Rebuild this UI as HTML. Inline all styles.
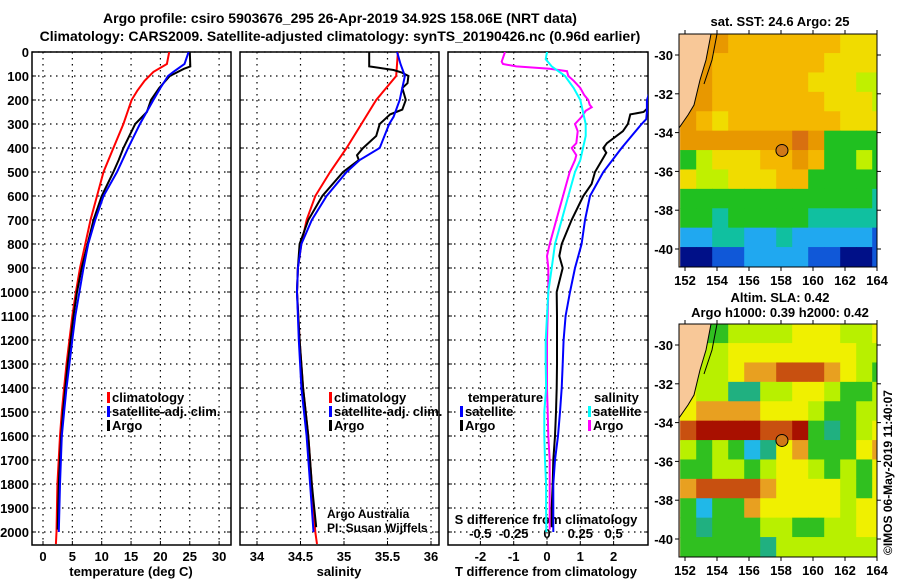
<!DOCTYPE html>
<html><head><meta charset="utf-8"><style>
body{margin:0;background:#fff;}
svg{display:block;font-family:"Liberation Sans",sans-serif;}
.b{font-weight:bold;font-size:13px;}
</style></head><body>
<svg id="c" width="900" height="580" viewBox="0 0 900 580">
<text x="340" y="23" text-anchor="middle" style="font-weight:bold;font-size:14px">Argo profile: csiro 5903676_295 26-Apr-2019 34.92S 158.06E (NRT data)</text>
<text x="340" y="41" text-anchor="middle" style="font-weight:bold;font-size:14px">Climatology: CARS2009. Satellite-adjusted climatology: synTS_20190426.nc (0.96d earlier)</text>
</svg>
<script>
// ---- depth profile data ----
const depthTicks=[0,100,200,300,400,500,600,700,800,900,1000,1100,1200,1300,1400,1500,1600,1700,1800,1900,2000];
const tTicks=[0,5,10,15,20,25,30];
const sTicks=[34,34.5,35,35.5,36];
const sTickLabels=['34','34.5','35','35.5','36'];
const dtTicks=[-2,-1,0,1,2];
const dsTicks=[-0.5,-0.25,0,0.25,0.5];
const dsTickLabels=['-0.5','-0.25','0','0.25','0.5'];

const tClimDepth=[0,50,83,120,160,200,300,400,500,600,700,800,900,1000,1100,1200,1300,1400,1500,1600,1800,2000,2050];
const tClim=[21.5,21.1,18.8,17.3,16.1,15.1,13.7,12.0,10.3,9.2,8.1,7.2,6.3,5.6,5.0,4.5,4.0,3.6,3.2,2.9,2.45,2.3,2.2];
const tSatDepth=[0,50,83,100,150,200,300,400,500,600,700,800,900,1000,1100,1200,1300,1400,1500,1600,1800,2000];
const tSat=[24.8,24.1,22.2,21.3,20.0,18.8,16.5,14.5,12.6,10.3,8.9,7.7,6.9,6.2,5.5,5.0,4.5,4.0,3.6,3.2,2.9,2.7];
const tArgoDepth=[0,60,70,100,150,200,250,300,400,450,500,600,700,800,900,1000,1100,1200,1300,1400,1500,1600,1800,1990];
const tArgo=[25.0,25.1,24.0,21.6,19.8,18.4,17.7,15.7,13.7,12.9,12.0,10.0,8.6,7.6,6.6,5.8,5.2,4.7,4.2,3.8,3.4,3.1,2.7,2.5];

const sClimDepth=[0,100,200,300,400,500,600,700,800,900,1000,1200,1400,1600,1800,2000,2050];
const sClim=[35.62,35.6,35.37,35.2,35.03,34.84,34.67,34.57,34.51,34.47,34.46,34.49,34.53,34.59,34.63,34.67,34.69];
const sSatDepth=[0,50,100,200,270,300,400,450,500,600,700,800,900,1000,1200,1400,1600,1800,2000];
const sSat=[35.61,35.65,35.7,35.64,35.57,35.52,35.41,35.18,35.03,34.8,34.63,34.51,34.47,34.46,34.48,34.51,34.57,34.61,34.65];
const sArgoDepth=[0,60,75,85,100,130,150,200,240,260,300,350,400,430,450,500,600,700,800,900,1000,1200,1400,1600,1800,1980];
const sArgo=[35.29,35.29,35.57,35.66,35.74,35.73,35.67,35.71,35.67,35.53,35.41,35.37,35.22,35.15,35.17,34.99,34.75,34.59,34.49,34.47,34.46,34.49,34.53,34.59,34.63,34.68];

const dtSatDepth=[0,100,180,200,250,280,300,400,500,600,700,800,900,1000,1100,1200,1300,1400,1500,1600,1700,1800,1900,2000];
const dtSat=[3.3,3.2,3.05,3.0,3.0,2.98,2.84,2.24,1.69,1.29,1.14,1.04,0.84,0.69,0.56,0.5,0.47,0.44,0.39,0.33,0.24,0.19,0.19,0.19];
const dtArgoDepth=[0,100,200,230,250,260,300,330,380,400,420,500,550,600,700,800,850,900,1000,1100,1200,1300,1400,1500,1600,1700,1800,1900,1980];
const dtArgo=[3.5,3.7,3.3,3.05,2.9,2.5,2.43,2.28,1.8,1.69,1.78,1.44,1.34,1.09,0.74,0.44,0.37,0.47,0.29,0.3,0.3,0.3,0.29,0.27,0.24,0.19,0.17,0.14,0.14];
const dsSatDepth=[0,30,60,100,150,200,250,300,350,400,450,500,600,700,800,900,1000,1100,1200,1300,1400,1500,1600,1700,1800,1900,2000];
const dsSat=[0,-0.01,0.035,0.135,0.2,0.25,0.27,0.29,0.29,0.27,0.25,0.21,0.16,0.11,0.06,0.035,0.01,0.0,-0.01,-0.01,-0.007,-0.02,-0.02,-0.015,-0.007,-0.007,-0.005];
const dsArgoDepth=[0,40,50,60,70,80,100,120,150,180,200,220,230,245,270,300,330,380,400,430,450,500,600,700,800,850,900,1000,1200,1400,1500,1600,1700,1800,1990];
const dsArgo=[-0.315,-0.34,-0.33,-0.23,0.02,0.15,0.16,0.2,0.25,0.28,0.31,0.32,0.335,0.29,0.26,0.21,0.23,0.22,0.185,0.22,0.21,0.17,0.12,0.07,0.02,0.0,0.01,0.01,0.0,0.0,0.005,0.01,0.02,0.02,0.02];

// ---- map data (rows north->south, cols west->east, 1 deg cells) ----
const sstGrid=[
[null,25,25,24.5,24.5,24.5,24.5,24.5,24.5,24.5,24,24,24],
[null,25,24.5,24.5,24.5,24.5,24.5,24.5,24.5,24,24,24,24],
[25,25,24.5,24.5,24.5,24.5,24.5,24.5,24,24,24,23.5,23.5],
[25,25,24.5,24.5,24.5,24.5,24.5,24.5,24.5,24,24,24,23.5],
[25,24.5,24,24.5,24.5,24.5,24.5,24.5,24.5,24.5,24,24,24],
[25,25,25,25,25,25,25,25.5,25,22.5,22.5,22.5,22.5],
[22.5,23.5,24,24,24,24.5,24.5,25,24.5,22.5,22.5,23.5,22.5],
[24,23.5,23.5,24,24,24,24.5,24.5,22.5,22.5,22.5,22.5,22.5],
[22.5,22.5,22.5,22.5,22.5,22.5,22.5,22.5,22.5,22.5,22.5,22.5,21.5],
[22.5,22.5,21.5,22.5,22.5,22.5,22.5,22.5,21.5,21.5,21.5,21.5,21.5],
[20.5,20.5,21.5,21.5,20.5,20.5,21.5,20.5,20.5,20.5,20.5,20.5,19.5],
[18.5,18.5,19.5,19.5,20.5,20.5,20.5,20.5,19.5,19.5,18.5,18.5,19.5]];
const slaGrid=[
[null,-0.05,-0.05,0.05,0.05,0.05,0.05,0.15,0.15,0.15,0.05,0.05,0.15],
[null,0.05,0.05,0.15,0.15,0.15,0.15,0.15,0.15,0.15,0.15,0.05,0.05],
[null,0.05,0.05,0.15,0.25,0.25,0.35,0.35,0.35,0.25,0.15,0.05,-0.05],
[0.15,0.05,0.05,-0.15,-0.15,0.05,0.05,0.15,0.15,0.05,-0.05,-0.05,0.05],
[0.15,0.25,0.25,0.25,0.25,0.15,0.15,0.15,0.05,-0.05,-0.05,0.05,0.05],
[0.35,0.5,0.5,0.5,0.5,0.35,0.35,0.5,-0.05,-0.15,-0.05,0.05,0.15],
[0.05,-0.05,0.05,-0.05,-0.25,-0.15,0.15,0.25,-0.05,-0.05,-0.05,0.15,0.25],
[-0.05,-0.05,0.05,0.05,-0.05,0.05,0.15,0.15,0.05,-0.05,0.05,-0.05,0.15],
[0.25,0.35,0.35,0.35,0.35,0.25,0.15,0.15,0.15,0.15,0.05,-0.05,0.15],
[-0.05,-0.25,-0.05,-0.05,0.25,0.15,0.15,0.15,0.15,0.15,0.05,0.15,0.15],
[-0.05,-0.15,-0.05,-0.05,-0.05,0.05,0.05,-0.05,-0.05,0.05,0.05,0.15,0.15],
[-0.05,-0.05,-0.05,-0.05,-0.05,-0.15,0.05,0.05,0.05,0.05,0.05,0.05,0.05]];
const latTicks=[-30,-32,-34,-36,-38,-40];
const lonTicks=[152,154,156,158,160,162,164];
const argoLon=[158.06];
const argoLat=[-34.92];

const svg=document.getElementById('c');
const NS='http://www.w3.org/2000/svg';
function mk(tag,attrs,parent){const e=document.createElementNS(NS,tag);for(const k in attrs)e.setAttribute(k,attrs[k]);(parent||svg).appendChild(e);return e;}
function txt(x,y,s,cls,anchor,parent){const e=mk('text',{x:x,y:y,'class':cls||'b','text-anchor':anchor||'start'},parent);e.textContent=s;return e;}

const TOP=52, BOT=545;
const yD=d=>TOP+d*0.24;
const xT=v=>43+v*5.87;
const xS=v=>257+(v-34)*87;
const xDT=v=>547+v*33.3;
const xDS=v=>547+v*133.3;
const panels=[{l:32,r:231,name:'temperature-panel'},{l:240,r:439,name:'salinity-panel'},{l:448,r:648,name:'difference-panel'}];

const defs=mk('defs',{});
panels.forEach((p,i)=>{const cp=mk('clipPath',{id:'cp'+i},defs);mk('rect',{x:p.l,y:TOP,width:p.r-p.l,height:BOT-TOP},cp);});

panels.forEach((p,i)=>{
  const g=mk('g',{});
  
  
  depthTicks.forEach(d=>{
    const l=mk('line',{x1:p.l,x2:p.r,y1:yD(d),y2:yD(d),stroke:'#000','stroke-width':1.2,'stroke-dasharray':'1.5,4.5'},g);
    
    
    mk('line',{x1:p.l,x2:p.l+4,y1:yD(d),y2:yD(d),stroke:'#000'},g);
    mk('line',{x1:p.r-4,x2:p.r,y1:yD(d),y2:yD(d),stroke:'#000'},g);
  });
  let xs=i==0?tTicks.map(xT):i==1?sTicks.map(xS):dtTicks.map(xDT);
  xs.forEach(x=>{
    const l=mk('line',{x1:x,x2:x,y1:TOP,y2:BOT,stroke:'#000','stroke-width':1.2,'stroke-dasharray':'1.5,4.5'},g);
    
    
    mk('line',{x1:x,x2:x,y1:BOT-4,y2:BOT,stroke:'#000'},g);
  });
  const fr=mk('rect',{x:p.l,y:TOP,width:p.r-p.l,height:BOT-TOP,fill:'none',stroke:'#000','stroke-width':1.5},g);
  
  
});

depthTicks.forEach(d=>{
  const t=txt(29,yD(d)+5,String(d),'b','end');
  
  
});
tTicks.forEach(v=>{const t=txt(xT(v),561,String(v),'b','middle');});
sTicks.forEach((v,i)=>{const t=txt(xS(v),561,sTickLabels[i],'b','middle');});
dtTicks.forEach(v=>{const t=txt(xDT(v),561,String(v),'b','middle');});
dsTicks.forEach((v,i)=>{const t=txt(xDS(v),538,dsTickLabels[i],'b','middle');});
let t;
t=txt(131,576,'temperature (deg C)','b','middle');
t=txt(339,576,'salinity','b','middle');
t=txt(546,576,'T difference from climatology','b','middle');
t=txt(546,524,'S difference from climatology','b','middle');

function line(depths,vals,xf,color,clip,name){
  const pts=depths.map((d,i)=>xf(vals[i]).toFixed(1)+','+yD(d).toFixed(1)).join(' ');
  const pl=mk('polyline',{points:pts,fill:'none',stroke:color,'stroke-width':2,'clip-path':'url(#'+clip+')'});
  
  
}
line(tClimDepth,tClim,xT,'#f00','cp0','temperature-climatology-line');
line(tArgoDepth,tArgo,xT,'#000','cp0','temperature-argo-line');
line(tSatDepth,tSat,xT,'#00f','cp0','temperature-satellite-line');
line(sClimDepth,sClim,xS,'#f00','cp1','salinity-climatology-line');
line(sArgoDepth,sArgo,xS,'#000','cp1','salinity-argo-line');
line(sSatDepth,sSat,xS,'#00f','cp1','salinity-satellite-line');
line(dsArgoDepth,dsArgo,xDS,'#f0f','cp2','s-diff-argo-line');
line(dsSatDepth,dsSat,xDS,'#0ff','cp2','s-diff-satellite-line');
line(dtArgoDepth,dtArgo,xDT,'#000','cp2','t-diff-argo-line');
line(dtSatDepth,dtSat,xDT,'#00f','cp2','t-diff-satellite-line');

function legend(x,y,color,label,name){
  const g=mk('g',{});
  
  
  mk('rect',{x:x,y:y-10,width:3,height:11,fill:color},g);
  txt(x+5,y,label,'b','start',g);
}
legend(107,402,'#f00','climatology','legend-climatology');
legend(107,416,'#00f','satellite-adj. clim.','legend-satellite-adj');
legend(107,430,'#000','Argo','legend-argo');
legend(329,402,'#f00','climatology','legend-climatology-salinity');
legend(329,416,'#00f','satellite-adj. clim.','legend-satellite-adj-salinity');
legend(329,430,'#000','Argo','legend-argo-salinity');
t=txt(468,402,'temperature');
t=txt(594,402,'salinity');
legend(460,416,'#00f','satellite','legend-t-satellite');
legend(460,430,'#000','Argo','legend-t-argo');
legend(588,416,'#0ff','satellite','legend-s-satellite');
legend(588,430,'#f0f','Argo','legend-s-argo');
t=txt(327,518,'Argo Australia','','start');t.setAttribute('style','font-size:12px');
t=txt(327,532,'PI: Susan Wijffels','','start');t.setAttribute('style','font-size:12px');

// ---- maps ----
function sstColor(v){return v>=25.25?'#d87010':v>=24.75?'#e89800':v>=24.25?'#f4b800':v>=23.75?'#f0dc00':v>=23?'#c0f000':v>=22?'#20c020':v>=21?'#10c0a0':v>=20?'#20a8f0':v>=19?'#1058d8':'#001088';}
function slaColor(v){return v>=0.42?'#a81000':v>=0.3?'#c85010':v>=0.2?'#e8a020':v>=0.1?'#f0f000':v>=0?'#b8f000':v>=-0.1?'#30c020':v>=-0.2?'#20b080':v>=-0.3?'#20b8e8':'#1060e0';}
function drawMap(top,grid,colorFn,name){
  const L=679,R=877,B=top+233;
  const lonX=lon=>685+(lon-152)*16;
  const latY=lat=>top+21+(-30-lat)*19.4;
  const g=mk('g',{});
  
  
  const cid='mc'+top;
  const cp=mk('clipPath',{id:cid},defs);mk('rect',{x:L,y:top,width:R-L,height:B-top},cp);
  const cg=mk('g',{'clip-path':'url(#'+cid+')'},g);
  mk('rect',{x:L,y:top,width:R-L,height:B-top,fill:'#f8c898'},cg);
  grid.forEach((row,r)=>row.forEach((v,c)=>{
    if(v===null)return;
    const x0=lonX(151.7+c),y0=latY(-28.9-r);
    const cell=mk('rect',{x:x0,y:y0,width:lonX(152.7+c)-x0+0.5,height:latY(-29.9-r)-y0+0.5,fill:colorFn(v)},cg);
    
    
  }));
  const land=mk('polygon',{points:[L,top,711,top,706,top+26,700,top+46,694,top+71,688,top+81,L,top+94].join(' '),fill:'#f8c898',stroke:'none'},cg);
  
  
  mk('polyline',{points:[711,top,706,top+26,700,top+46,694,top+71,688,top+81,L,top+94].join(' '),fill:'none',stroke:'#000','stroke-width':1},cg);
  mk('polyline',{points:[717,top,712,top+26,704,top+50],fill:'none',stroke:'#000','stroke-width':1},cg);
  argoLon.forEach((lon,i)=>{
    const m=mk('circle',{cx:lonX(lon),cy:latY(argoLat[i]),r:6,fill:'#d07818',stroke:'#000','stroke-width':1},g);
    
    
  });
  mk('rect',{x:L,y:top,width:R-L,height:B-top,fill:'none',stroke:'#000','stroke-width':1},g);
  latTicks.forEach(lat=>{
    const y=latY(lat);
    mk('line',{x1:L-4,x2:L,y1:y,y2:y,stroke:'#000'},g);
    mk('line',{x1:R,x2:R+4,y1:y,y2:y,stroke:'#000'},g);
    const tl=txt(L-6,y+5,String(lat),'b','end',g);
    
    
  });
  lonTicks.forEach(lon=>{
    const x=lonX(lon);
    mk('line',{x1:x,x2:x,y1:B,y2:B+4,stroke:'#000'},g);
    mk('line',{x1:x,x2:x,y1:top-4,y2:top,stroke:'#000'},g);
    const tl=txt(x,B+18,String(lon),'b','middle',g);
    
    
  });
}
drawMap(34,sstGrid,sstColor,'sst-map');
drawMap(324,slaGrid,slaColor,'sla-map');
t=txt(780,26,'sat. SST: 24.6 Argo: 25','b','middle');
t=txt(780,302,'Altim. SLA: 0.42','b','middle');
t=txt(780,317,'Argo h1000: 0.39 h2000: 0.42','b','middle');
t=txt(0,0,'©IMOS 06-May-2019 11:40:07','','start');
t.setAttribute('transform','translate(892,555) rotate(-90)');
t.setAttribute('style','font-size:12px');


</script>
</body></html>
